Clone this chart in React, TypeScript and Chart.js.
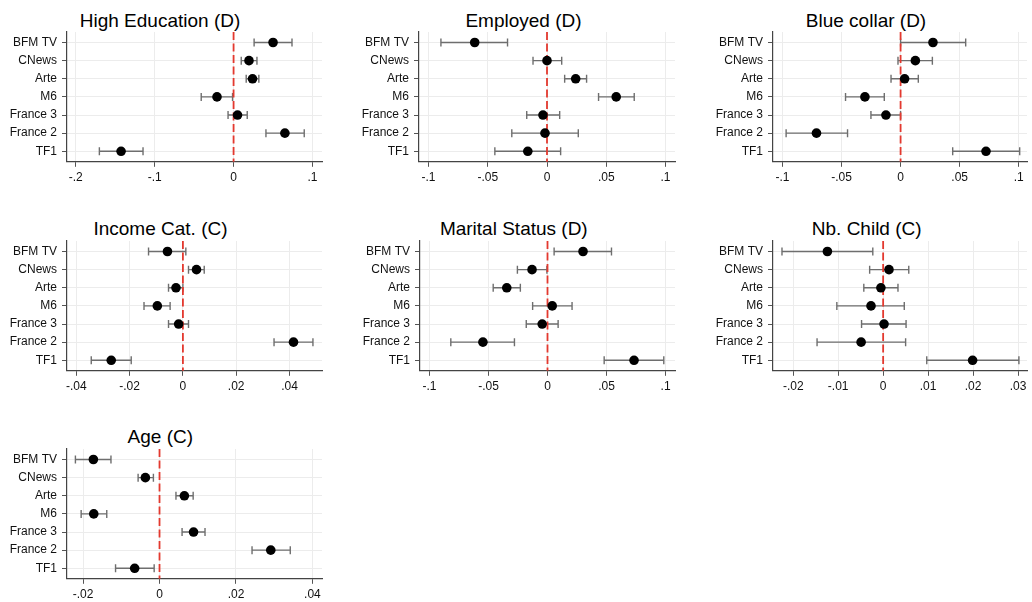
import React, { useEffect, useRef } from "react";
import { Chart, registerables } from "chart.js";

Chart.register(...registerables);

// ---------- DATA ----------
const categories = ["BFM TV", "CNews", "Arte", "M6", "France 3", "France 2", "TF1"];

const eduEst = [0.05, 0.0195, 0.024, -0.021, 0.005, 0.065, -0.1425];
const eduLo = [0.026, 0.0097, 0.016, -0.041, -0.007, 0.041, -0.17];
const eduHi = [0.074, 0.0296, 0.032, -0.0013, 0.0173, 0.0895, -0.1147];
const eduTicks = [-0.2, -0.1, 0, 0.1];

const empEst = [-0.061, 0.0, 0.0242, 0.0584, -0.0034, -0.0017, -0.0162];
const empLo = [-0.0895, -0.0118, 0.0149, 0.0435, -0.0171, -0.0297, -0.044];
const empHi = [-0.0333, 0.0124, 0.0334, 0.0736, 0.0107, 0.0264, 0.0115];
const empTicks = [-0.1, -0.05, 0, 0.05, 0.1];

const blueEst = [0.0274, 0.0125, 0.0034, -0.0302, -0.0124, -0.0712, 0.0723];
const blueLo = [0.0, -0.0022, -0.0081, -0.0466, -0.0251, -0.0969, 0.0441];
const blueHi = [0.0551, 0.0269, 0.015, -0.0138, 0.0, -0.0449, 0.1008];
const blueTicks = [-0.1, -0.05, 0, 0.05, 0.1];

const incEst = [-0.0058, 0.0051, -0.0026, -0.0096, -0.0016, 0.0415, -0.0269];
const incLo = [-0.0129, 0.0021, -0.0054, -0.0146, -0.0054, 0.0342, -0.0344];
const incHi = [0.0011, 0.008, 0.0, -0.0048, 0.0021, 0.0488, -0.0194];
const incTicks = [-0.04, -0.02, 0, 0.02, 0.04];

const marEst = [0.0301, -0.0131, -0.0345, 0.004, -0.0045, -0.0547, 0.0733];
const marLo = [0.0056, -0.0255, -0.046, -0.0126, -0.018, -0.0819, 0.048];
const marHi = [0.0542, -0.0005, -0.023, 0.0208, 0.009, -0.028, 0.0985];
const marTicks = [-0.1, -0.05, 0, 0.05, 0.1];

const chEst = [-0.0124, 0.0013, -0.0005, -0.0027, 0.0002, -0.0049, 0.0199];
const chLo = [-0.0225, -0.003, -0.0043, -0.0103, -0.0048, -0.0147, 0.0097];
const chHi = [-0.0023, 0.0057, 0.0033, 0.0047, 0.0051, 0.005, 0.0302];
const chTicks = [-0.02, -0.01, 0, 0.01, 0.02, 0.03];

const ageEst = [-0.0173, -0.0037, 0.0065, -0.0172, 0.0089, 0.0291, -0.0065];
const ageLo = [-0.022, -0.0056, 0.0043, -0.0205, 0.0059, 0.0242, -0.0115];
const ageHi = [-0.0127, -0.0016, 0.0088, -0.0138, 0.0119, 0.0342, -0.0014];
const ageTicks = [-0.02, 0, 0.02, 0.04];

// ---------- PANELS ----------
type PanelDef = {
  title: string;
  est: number[];
  lo: number[];
  hi: number[];
  ticks: number[];
  xMin: number;
  xMax: number;
  P: number; // plot left (page px)
  R: number; // plot right
  top: number; // plot top
  C: number; // title center
};

const panels: PanelDef[] = [
  { title: "High Education (D)", est: eduEst, lo: eduLo, hi: eduHi, ticks: eduTicks, xMin: -0.211, xMax: 0.112, P: 67, R: 322, top: 32.3, C: 160 },
  { title: "Employed (D)", est: empEst, lo: empLo, hi: empHi, ticks: empTicks, xMin: -0.108, xMax: 0.108, P: 419, R: 675, top: 32.3, C: 523.5 },
  { title: "Blue collar (D)", est: blueEst, lo: blueLo, hi: blueHi, ticks: blueTicks, xMin: -0.108, xMax: 0.107, P: 773, R: 1027, top: 32.3, C: 866 },
  { title: "Income Cat. (C)", est: incEst, lo: incLo, hi: incHi, ticks: incTicks, xMin: -0.0435, xMax: 0.0522, P: 67, R: 322, top: 240.6, C: 160.5 },
  { title: "Marital Status (D)", est: marEst, lo: marLo, hi: marHi, ticks: marTicks, xMin: -0.108, xMax: 0.108, P: 420, R: 675, top: 240.6, C: 513.8 },
  { title: "Nb. Child (C)", est: chEst, lo: chLo, hi: chHi, ticks: chTicks, xMin: -0.0245, xMax: 0.032, P: 773, R: 1027, top: 240.6, C: 866.7 },
  { title: "Age (C)", est: ageEst, lo: ageLo, hi: ageHi, ticks: ageTicks, xMin: -0.0242, xMax: 0.0425, P: 67, R: 322, top: 448.9, C: 160.3 },
];

const FONT = "'Liberation Sans', Arial, Helvetica, sans-serif";
const TOP_PAD = 12;
const PLOT_H = 129.8;
const X_H = 30;
const Y_W = 72;
const RIGHT_PAD = 10;

function fmt(v: number): string {
  if (Math.abs(v) < 1e-12) return "0";
  return String(Number(v.toFixed(4))).replace("0.", ".");
}

function Panel({ def }: { def: PanelDef }) {
  const ref = useRef<HTMLCanvasElement | null>(null);
  const L = def.P - Y_W;
  const T = def.top - TOP_PAD;
  const W = Math.round(def.R + RIGHT_PAD - L);
  const padR = L + W - def.R;
  const H = Math.round(TOP_PAD + PLOT_H + X_H);
  const xH = H - TOP_PAD - PLOT_H;

  useEffect(() => {
    if (!ref.current) return;
    const errPlugin = {
      id: "errbars",
      beforeDatasetsDraw(chart: any) {
        const { ctx, chartArea, scales } = chart;
        const xs = scales.x;
        const ys = scales.y;
        ctx.save();
        ctx.strokeStyle = "#6e6e6e";
        ctx.lineWidth = 1.4;
        for (let i = 0; i < def.est.length; i++) {
          const py = ys.getPixelForValue(i);
          const x1 = xs.getPixelForValue(def.lo[i]);
          const x2 = xs.getPixelForValue(def.hi[i]);
          ctx.beginPath();
          ctx.moveTo(x1, py);
          ctx.lineTo(x2, py);
          ctx.moveTo(x1, py - 4);
          ctx.lineTo(x1, py + 4);
          ctx.moveTo(x2, py - 4);
          ctx.lineTo(x2, py + 4);
          ctx.stroke();
        }
        const x0 = xs.getPixelForValue(0);
        ctx.strokeStyle = "#e3392f";
        ctx.lineWidth = 1.8;
        ctx.setLineDash([8, 3.5]);
        ctx.beginPath();
        ctx.moveTo(x0, chartArea.top);
        ctx.lineTo(x0, chartArea.bottom);
        ctx.stroke();
        ctx.restore();
      },
    };

    const chart = new Chart(ref.current, {
      type: "scatter",
      data: {
        datasets: [
          {
            data: def.est.map((v, i) => ({ x: v, y: i })),
            pointRadius: 4.8,
            pointHoverRadius: 4.8,
            backgroundColor: "#000",
            borderColor: "#000",
            borderWidth: 0,
          },
        ],
      },
      options: {
        animation: false,
        responsive: false,
        maintainAspectRatio: false,
        layout: { padding: { left: 0, right: padR, top: TOP_PAD, bottom: 0 } },
        plugins: {
          legend: { display: false },
          tooltip: { enabled: false },
          title: { display: false },
        },
        scales: {
          x: {
            type: "linear",
            min: def.xMin,
            max: def.xMax,
            afterBuildTicks: (s: any) => {
              s.ticks = def.ticks.map((v) => ({ value: v }));
            },
            afterFit: (s: any) => {
              s.height = xH;
              s.paddingLeft = 0;
              s.paddingRight = 0;
            },
            ticks: {
              callback: (v: any) => fmt(Number(v)),
              font: { family: FONT, size: 12 },
              color: "#111",
              padding: 4,
              maxRotation: 0,
              autoSkip: false,
            },
            grid: { color: "#ececec", tickColor: "#555", tickLength: 5, lineWidth: 1 },
            border: { color: "#444", width: 1.2 },
          },
          y: {
            type: "linear",
            reverse: true,
            min: -0.58,
            max: 6.58,
            afterBuildTicks: (s: any) => {
              s.ticks = categories.map((_, i) => ({ value: i }));
            },
            afterFit: (s: any) => {
              s.width = Y_W;
              s.paddingTop = 0;
              s.paddingBottom = 0;
            },
            ticks: {
              callback: (v: any) => categories[Number(v)],
              font: { family: FONT, size: 12 },
              color: "#111",
              padding: 5,
              autoSkip: false,
            },
            grid: { color: "#ececec", tickColor: "#555", tickLength: 5, lineWidth: 1 },
            border: { color: "#444", width: 1.2 },
          },
        },
      },
      plugins: [errPlugin],
    } as any);
    return () => chart.destroy();
  }, []);

  return (
    <>
      <div
        style={{
          position: "absolute",
          left: def.C - 150,
          top: def.top - 22.8,
          width: 300,
          height: 22.8,
          lineHeight: "22.8px",
          textAlign: "center",
          fontFamily: FONT,
          fontSize: 19,
          color: "#000",
          whiteSpace: "nowrap",
        }}
      >
        {def.title}
      </div>
      <canvas
        ref={ref}
        width={W}
        height={H}
        style={{ position: "absolute", left: L, top: T, width: W, height: H }}
      />
    </>
  );
}

export default function App() {
  return (
    <div
      style={{
        position: "fixed",
        left: 0,
        top: 0,
        width: 1032,
        height: 602,
        overflow: "hidden",
        background: "#fff",
      }}
    >
      {panels.map((p, i) => (
        <Panel key={i} def={p} />
      ))}
    </div>
  );
}
